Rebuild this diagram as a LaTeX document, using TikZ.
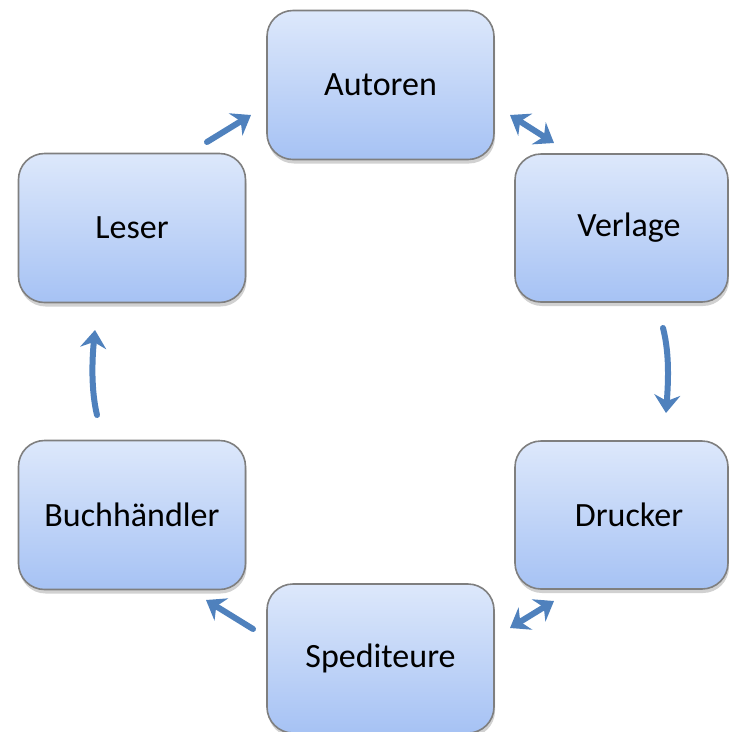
\documentclass[tikz,border=0pt]{standalone}
\usepackage{fontspec}
\setmainfont{Carlito}
\usetikzlibrary{arrows.meta,shadows,calc}
\definecolor{boxtop}{HTML}{DDE8FB}
\definecolor{boxbot}{HTML}{A6C2F4}
\definecolor{boxline}{HTML}{7F7F7F}
\definecolor{arr}{HTML}{4F81BD}
\tikzset{
  box/.style={draw=boxline, line width=1.6pt, rounded corners=26pt,
    top color=boxtop, bottom color=boxbot,
    drop shadow={shadow xshift=1pt, shadow yshift=-4pt, opacity=0.18, fill=black},
    font=\fontsize{34}{40}\selectfont, inner sep=0pt},
  wide/.style={minimum width=227pt, minimum height=149pt},
  narrow/.style={minimum width=213pt, minimum height=148pt},
  head/.style={Stealth[length=18pt,width=26pt,inset=6pt]},
  flow/.style={draw=arr, line width=6pt, line cap=round, -{Stealth[length=18pt,width=26pt,inset=6pt]}},
  flow2/.style={draw=arr, line width=6pt, line cap=round,
    {Stealth[length=18pt,width=26pt,inset=6pt]}-{Stealth[length=18pt,width=26pt,inset=6pt]}}
}
\begin{document}
\begin{tikzpicture}[x=1pt,y=-1pt]
\useasboundingbox (0,0) rectangle (729,732);
\node[box,wide] (aut) at (380.5,85) {Autoren};
\node[box,wide] (les) at (132,228) {Leser};
\node[box,narrow] (ver) at (621.5,228) {\hspace*{15pt}Verlage};
\node[box,wide] (buc) at (132,515) {Buchhändler};
\node[box,narrow] (dru) at (621.5,515) {\hspace*{15pt}Drucker};
\node[box,wide] (spe) at (380.5,658.5) {Spediteure};
% arrow end points
\coordinate (a1s) at (207,142); \coordinate (a1e) at (251,115);
\coordinate (a2s) at (510,115); \coordinate (a2e) at (554,143);
\coordinate (a3s) at (663,328); \coordinate (a3e) at (666,413);
\coordinate (a4s) at (554,601); \coordinate (a4e) at (510,628);
\coordinate (a5s) at (253,629); \coordinate (a5e) at (206,600);
\coordinate (a6s) at (97,415); \coordinate (a6e) at (95,330);
\draw[flow] (a1s) -- (a1e);
\draw[flow2] (a2s) -- (a2e);
\draw[flow] (a3s) .. controls (670,355) and (668,385) .. (a3e);
\draw[flow2] (a4s) -- (a4e);
\draw[flow] (a5s) -- (a5e);
\draw[flow] (a6s) .. controls (91,390) and (92,360) .. (a6e);
\end{tikzpicture}
\end{document}
